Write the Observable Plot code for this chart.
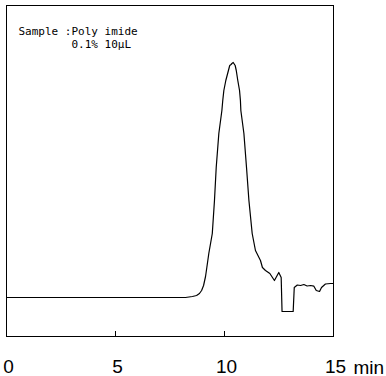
<!DOCTYPE html>
<html>
<head>
<meta charset="utf-8">
<script src="https://cdn.jsdelivr.net/npm/d3@7"></script>
<script src="https://cdn.jsdelivr.net/npm/@observablehq/plot@0.6"></script>
<style>
  html, body { margin: 0; padding: 0; background: #fff; }
  #chart svg { display: block; }
</style>
</head>
<body>
<div id="chart"></div>
<script>
// Retention time (min)
const times = [0, 8.21, 8.53, 8.72, 8.85, 8.95, 9.04, 9.13, 9.17, 9.28, 9.44, 9.54, 9.62, 9.74, 9.88, 9.92, 9.97, 10.06, 10.18, 10.24, 10.30, 10.34, 10.40, 10.49, 10.54, 10.61, 10.69, 10.73, 10.75, 10.89, 11.01, 11.12, 11.27, 11.42, 11.65, 11.74, 11.88, 12.08, 12.23, 12.29, 12.39, 12.49, 12.60, 12.64, 13.15, 13.20, 13.34, 13.49, 13.64, 13.79, 13.95, 14.10, 14.21, 14.36, 14.45, 14.63, 14.86, 15.0];
// Detector signal (arbitrary units, baseline = 0)
const signal = [0, 0, 1, 2, 4, 7, 12, 21, 27, 44, 64, 97, 130, 164, 187, 197, 207, 217, 227, 232, 233, 234, 235, 232, 227, 217, 207, 197, 187, 164, 130, 97, 64, 47, 37, 30, 27, 24, 19, 17, 21, 25, 20, -14, -14, 10, 12.5, 12, 13, 11.5, 12, 11.3, 7, 6, 10, 13.5, 14, 14];
const xTicks = [0, 5, 10, 15];
const innerTicks = [5, 10];
const xUnit = ["min"];
const annotLine1 = ["Sample :Poly imide"];
const annotLine2 = ["0.1% 10μL"];

const data = times.map((t, i) => ({t, v: signal[i]}));

const chart = Plot.plot({
  width: 386,
  height: 376,
  marginLeft: 6,
  marginRight: 53,
  marginTop: 5,
  marginBottom: 40,
  style: {fontFamily: "'Liberation Sans', Arial, sans-serif", background: "#fff"},
  x: {domain: [0, 15]},
  y: {domain: [-39, 292], axis: null},
  marks: [
    Plot.frame({stroke: "#000", strokeWidth: 1}),
    Plot.axisX(innerTicks, {tickSize: 5, dy: -5, tickFormat: () => "", stroke: "#000", label: null}),
    Plot.axisX(xTicks, {tickSize: 0, tickPadding: 23, fontSize: 19, fill: "#000", dx: 2, label: null}),
    Plot.text(xUnit, {frameAnchor: "bottom-right", text: d => d, textAnchor: "start", lineAnchor: "bottom", dx: 20, dy: 37, fontSize: 19, fill: "#000"}),
    Plot.line(data, {x: "t", y: "v", stroke: "#000", strokeWidth: 1.2, curve: "linear"}),
    Plot.text(annotLine1, {frameAnchor: "top-left", text: d => d, textAnchor: "start", lineAnchor: "bottom", dx: 12, dy: 29, fontSize: 11, fontFamily: "'DejaVu Sans Mono', monospace", fill: "#000"}),
    Plot.text(annotLine2, {frameAnchor: "top-left", text: d => d, textAnchor: "start", lineAnchor: "bottom", dx: 65, dy: 42, fontSize: 11, fontFamily: "'DejaVu Sans Mono', monospace", fill: "#000"})
  ]
});
document.getElementById("chart").appendChild(chart);
</script>
</body>
</html>
